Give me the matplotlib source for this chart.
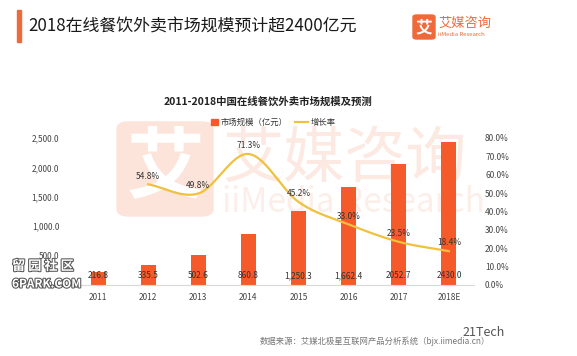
import numpy as np
import matplotlib.pyplot as plt
import matplotlib.patheffects as pe
from matplotlib.patches import FancyBboxPatch, Rectangle
from matplotlib.lines import Line2D

plt.rcParams['font.family'] = ['Noto Sans CJK SC', 'DejaVu Sans']

years = ['2011', '2012', '2013', '2014', '2015', '2016', '2017', '2018E']
market_size = [216.8, 335.5, 502.6, 860.8, 1250.3, 1662.4, 2052.7, 2430.0]
bar_labels = ['216.8', '335.5', '502.6', '860.8', '1,250.3', '1,662.4', '2052.7', '2430.0']
growth_years = [1, 2, 3, 4, 5, 6, 7]
growth_rate = [0.548, 0.498, 0.713, 0.452, 0.330, 0.235, 0.184]

bar_color = '#F55A2A'
line_color = '#EFC13E'


def catmull_rom(xs, ys, n=30):
    # smooth curve through the points, like the office "smoothed line"
    xs = np.asarray(xs, float)
    ys = np.asarray(ys, float)
    px = np.concatenate([[2 * xs[0] - xs[1]], xs, [2 * xs[-1] - xs[-2]]])
    py = np.concatenate([[2 * ys[0] - ys[1]], ys, [2 * ys[-1] - ys[-2]]])
    out_x, out_y = [], []
    t = np.linspace(0, 1, n)
    for i in range(1, len(px) - 2):
        for p, out in ((px, out_x), (py, out_y)):
            p0, p1, p2, p3 = p[i - 1], p[i], p[i + 1], p[i + 2]
            out.extend(0.5 * (2 * p1 + (-p0 + p2) * t
                              + (2 * p0 - 5 * p1 + 4 * p2 - p3) * t ** 2
                              + (-p0 + 3 * p1 - 3 * p2 + p3) * t ** 3))
    return np.array(out_x), np.array(out_y)


fig = plt.figure(figsize=(5.77, 3.56), dpi=100)
W, H = 577, 356

# header
fig.patches.append(Rectangle((17 / W, 1 - 42 / H), 4 / W, 32 / H, transform=fig.transFigure,
                             color='#EE6A3A', zorder=2))
fig.text(28 / W, 1 - 27 / H, '2018在线餐饮外卖市场规模预计超2400亿元', fontsize=12.2,
         color='#1a1a1a', va='center', ha='left')

# logo top right
fig.patches.append(FancyBboxPatch((413 / W, 1 - 39 / H), 22 / W, 24 / H, transform=fig.transFigure,
                                  boxstyle='round,pad=0,rounding_size=0.006', color='#EE6A3A'))
fig.text(424 / W, 1 - 27 / H, '艾', fontsize=12, color='white', ha='center', va='center',
         fontweight='bold')
fig.text(438 / W, 1 - 23 / H, '艾媒咨询', fontsize=9.5, color='#EE6A3A', ha='left', va='center')
fig.text(438 / W, 1 - 35 / H, 'iiMedia Research', fontsize=4.3, color='#EE6A3A', ha='left',
         va='center')

# background watermark (behind the axes)
fig.patches.append(FancyBboxPatch((117 / W, 1 - 216 / H), 96 / W, 94 / H, transform=fig.transFigure,
                                  boxstyle='round,pad=0,rounding_size=0.02', color='#FCE4DA',
                                  zorder=-2))
fig.text(165 / W, 1 - 168 / H, '艾', fontsize=56, color='white', ha='center', va='center',
         fontweight='bold', zorder=-1)
fig.text(222 / W, 1 - 160 / H, '艾媒咨询', fontsize=44, color='#FCEAE2', ha='left', va='center',
         zorder=-1)
fig.text(222 / W, 1 - 203 / H, 'iiMedia Research', fontsize=24, color='#FCEEE8', ha='left',
         va='center', zorder=-1)

ax = fig.add_axes([73 / W, 1 - 285 / H, 401 / W, 147 / H])
ax.patch.set_alpha(0)
ax2 = ax.twinx()

x = np.arange(len(years))
ax.bar(x, market_size, width=0.3, color=bar_color, zorder=2)
for xi, lab in zip(x, bar_labels):
    ax.text(xi, 160, lab, ha='center', va='center', fontsize=6, color='#333333', zorder=3)

ax.set_xlim(-0.5, len(years) - 0.5)
ax.set_ylim(0, 2500)
ax.set_yticks(np.arange(0, 2501, 500))
ax.set_yticklabels([f'{v:,.1f}' for v in np.arange(0, 2501, 500)])
ax.set_xticks(x)
ax.set_xticklabels(years)

cx, cy = catmull_rom(growth_years, growth_rate)
ax2.plot(cx, cy, color=line_color, lw=1.6, zorder=3)
for gx, gy in zip(growth_years, growth_rate):
    ax2.text(gx, gy + 0.045, f'{gy * 100:.1f}%', ha='center', va='center', fontsize=6,
             color='#333333')
ax2.set_ylim(0, 0.8)
ax2.set_yticks(np.arange(0, 0.81, 0.1))
ax2.set_yticklabels([f'{v * 100:.1f}%' for v in np.arange(0, 0.81, 0.1)])

for a in (ax, ax2):
    for s in a.spines.values():
        s.set_visible(False)
    a.tick_params(length=0, labelsize=6, colors='#444444')
ax.spines['bottom'].set_visible(True)
ax.spines['bottom'].set_color('#D9D9D9')
ax.tick_params(axis='x', pad=6)
ax.tick_params(axis='y', pad=10)
ax2.tick_params(axis='y', pad=8)

# chart title and legend
fig.text(268 / W, 1 - 102 / H, '2011-2018中国在线餐饮外卖市场规模及预测', fontsize=7.5,
         fontweight='bold', color='#222222', ha='center', va='center')
fig.patches.append(Rectangle((211 / W, 1 - 125 / H), 7 / W, 6 / H, transform=fig.transFigure,
                             color=bar_color))
fig.text(221 / W, 1 - 122 / H, '市场规模（亿元）', fontsize=6, color='#333333', va='center')
fig.lines.append(Line2D([295 / W, 308 / W], [1 - 122 / H, 1 - 122 / H], transform=fig.transFigure,
                        color=line_color, lw=1.6))
fig.text(311 / W, 1 - 122 / H, '增长率', fontsize=6, color='#333333', va='center')

# source and overlay marks
fig.text(260 / W, 1 - 341 / H, '数据来源：艾媒北极星互联网产品分析系统（bjx.iimedia.cn）', fontsize=6,
         color='#777777', va='center', ha='left')
fig.text(462 / W, 1 - 332 / H, '21Tech', fontsize=9, color='#555555', va='center', ha='left')
wm1 = fig.text(12 / W, 1 - 266 / H, '留 园 社 区', fontsize=9.5, color='white', va='center',
               ha='left', fontweight='bold', zorder=5)
wm2 = fig.text(12 / W, 1 - 284 / H, '6PARK.COM', fontsize=8.5, color='white', va='center',
               ha='left', fontweight='bold', zorder=5)
for t in (wm1, wm2):
    t.set_path_effects([pe.withStroke(linewidth=1.5, foreground='#555555')])

fig.savefig('out.png', dpi=100)
